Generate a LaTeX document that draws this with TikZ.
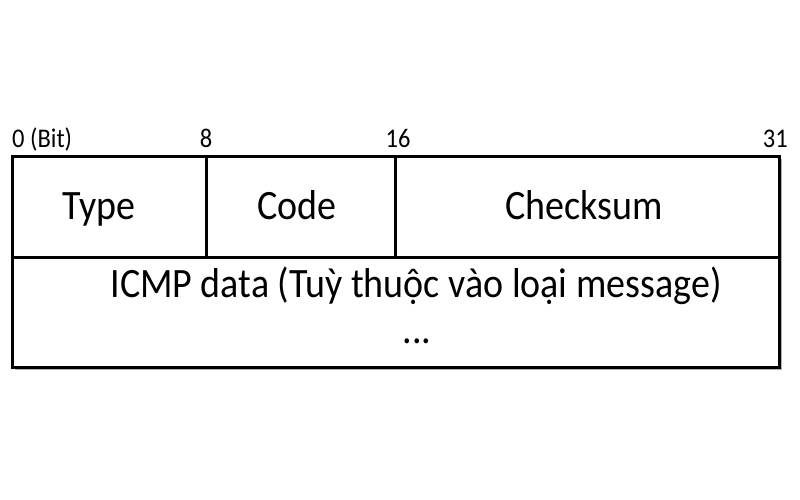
\documentclass[tikz,border=0pt]{standalone}
\usepackage{fontspec}
\usepackage{graphicx}
\setmainfont{Carlito}
\usetikzlibrary{positioning}
\newcommand{\tallbox}[1]{\scalebox{1}[1.1]{#1}}
\tikzset{
  fieldtext/.style={font=\fontsize{38}{42}\selectfont, text=black, inner sep=0pt, anchor=base},
  bittext/.style={font=\fontsize{24.5}{27}\selectfont, text=black, inner sep=0pt, anchor=base},
  frameline/.style={draw=black, line width=3pt, line cap=rect},
  shadowfill/.style={fill=black!30}
}
\begin{document}
\begin{tikzpicture}[x=1pt,y=-1pt]
  \useasboundingbox[fill=white] (0,0) rectangle (800,500);
  % header frame: two rows, three fields in the first
  \coordinate (nw) at (12,156);
  \coordinate (se) at (779,367);
  \fill[shadowfill] (15,159) rectangle (782,370);
  \fill[white] (nw) rectangle (se);
  \draw[frameline] (nw) rectangle (se);
  \draw[frameline] (12,257) -- (779,257);
  \draw[frameline] (206,156) -- (206,257);
  \draw[frameline] (395,156) -- (395,257);

  % bit offsets
  \node[bittext, anchor=base west] (bit0) at (12,147) {\tallbox{0 (Bit)}};
  \node[bittext] (bit8) at (206,147) {\tallbox{8}};
  \node[bittext] (bit16) at (398,147) {\tallbox{16}};
  \node[bittext, anchor=base east] (bit31) at (788,147) {\tallbox{31}};

  % fields
  \node[fieldtext] (type) at (99,219) {\tallbox{Type}};
  \node[fieldtext] (code) at (297,219) {\tallbox{Code}};
  \node[fieldtext] (checksum) at (584,219) {\tallbox{Checksum}};
  \node[fieldtext] (data) at (416,297) {\tallbox{ICMP data (Tuỳ thuộc vào loại message)}};
  \node[fieldtext] (dots) at (417,343) {\tallbox{...}};
\end{tikzpicture}
\end{document}
